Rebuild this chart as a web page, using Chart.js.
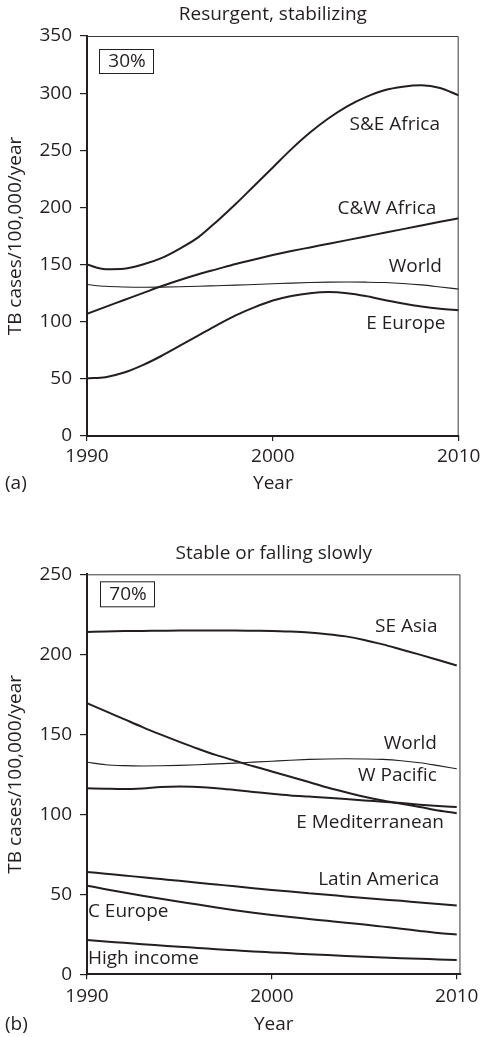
<!DOCTYPE html>
<html>
<head>
<meta charset="utf-8">
<script src="https://cdn.jsdelivr.net/npm/chart.js@4.4.1/dist/chart.umd.min.js"></script>
<style>
  html, body { margin: 0; padding: 0; background: #fff; }
  #wrap { position: relative; width: 485px; height: 1037px; overflow: hidden; }
  canvas { position: absolute; left: 0; display: block; }
  #ca { top: 0; }
  #cb { top: 500px; }
</style>
</head>
<body>
<div id="wrap">
  <canvas id="ca" width="485" height="500"></canvas>
  <canvas id="cb" width="485" height="537"></canvas>
</div>
<script>
// TB incidence per 100,000 per year, by region, 1990-2010
const years = [1990,1991,1992,1993,1994,1995,1996,1997,1998,1999,2000,2001,2002,2003,2004,2005,2006,2007,2008,2009,2010];

const xTicks = [1990, 2000, 2010];
const yTicksA = [0, 50, 100, 150, 200, 250, 300, 350];
const yTicksB = [0, 50, 100, 150, 200, 250];

// (a) Resurgent, stabilizing
const seAfrica = [150,146,146.4,150,155.6,164,174,188,203,219,235,251,265.5,278,288.5,296.5,302.5,305.6,306.8,304.5,298];
const cwAfrica = [107,113,119,125,131,136.5,141.5,146,150.5,154.5,158.3,161.8,165,168.2,171.4,174.6,177.8,181,184.2,187.4,190.5];
const world    = [132.5,131,130.4,130.2,130.3,130.6,131,131.5,132,132.6,133.2,133.8,134.3,134.6,134.7,134.6,134.3,133.5,132.2,130.4,128.5];
const eEurope  = [50.5,51.5,55.5,62,70,79,88,97,105.5,112.5,118.5,122.5,125,126,125,122.5,119,116,113.3,111.3,110];

// (b) Stable or falling slowly
const seAsia   = [214,214.3,214.5,214.6,214.7,214.8,214.8,214.8,214.8,214.7,214.6,214.2,213.6,212.6,211.2,209,206.2,203,199.8,196.4,193];
const wPacific = [169.5,164.5,159.5,154.5,149.8,145.3,141,137,133.5,130,126.8,123.5,120.2,116.8,113.8,111,108.6,106.6,104.6,102.4,100.7];
const eMed     = [116.3,116,115.8,116.2,117,117.3,117,116.3,115.2,114,112.8,111.8,111.1,110.4,109.6,108.7,107.9,107,106,105.2,104.5];
const latAm    = [64,62.9,61.8,60.6,59.5,58.4,57.2,56.1,55,53.8,52.7,51.7,50.7,49.7,48.7,47.7,46.8,45.9,44.9,44,43];
const cEurope  = [55.4,53.2,51.1,49.1,47.2,45.4,43.6,41.8,40.1,38.5,37.1,35.8,34.6,33.4,32.2,31.1,29.8,28.5,27.1,25.8,24.8];
const highInc  = [21.4,20.5,19.7,18.8,18,17.2,16.5,15.7,15,14.3,13.7,13.1,12.5,12,11.5,11,10.5,10.1,9.7,9.3,8.9];

// Region names, anchored at [year, rate]
const labelsA = [
  { text: 'S&E Africa', at: [2006.56, 272.1], align: 'center' },
  { text: 'C&W Africa', at: [2006.14, 199.2], align: 'center' },
  { text: 'World',      at: [2007.67, 148.2], align: 'center' },
  { text: 'E Europe',   at: [2007.16, 98.6],  align: 'center' }
];
const labelsB = [
  { text: 'SE Asia',         at: [2007.27, 217.3], align: 'center' },
  { text: 'World',           at: [2007.49, 143.9], align: 'center' },
  { text: 'W Pacific',       at: [2006.79, 123.9], align: 'center' },
  { text: 'E Mediterranean', at: [2005.31, 94.75], align: 'center' },
  { text: 'Latin America',   at: [2005.78, 58.9],  align: 'center' },
  { text: 'C Europe',        at: [1990.05, 39.1],  align: 'left' },
  { text: 'High income',     at: [1990.05, 10.0],  align: 'left' }
];

const INK = '#231f20';
const FONT_FAMILY = '"Open Sans", "Noto Sans", sans-serif';
const FONT_SIZE = 19;
Chart.defaults.font.family = FONT_FAMILY;
Chart.defaults.font.size = FONT_SIZE;
Chart.defaults.color = INK;

const series = (vals) => years.map((y, i) => ({ x: y, y: vals[i] }));

function line(vals, width) {
  return {
    data: series(vals),
    borderColor: INK,
    borderWidth: width,
    pointRadius: 0,
    fill: false,
    cubicInterpolationMode: 'monotone'
  };
}

// Panel title, frame, share box, panel letter and region names
const decor = {
  id: 'decor',
  afterDatasetsDraw(chart, args, o) {
    const { ctx, chartArea: a, scales } = chart;
    ctx.save();
    // thin top and right edges of the frame
    ctx.strokeStyle = '#3c3a3b';
    ctx.lineWidth = 1;
    ctx.beginPath();
    ctx.moveTo(a.left, a.top + 0.5);
    ctx.lineTo(a.right - 0.5, a.top + 0.5);
    ctx.lineTo(a.right - 0.5, a.bottom);
    ctx.stroke();

    ctx.font = FONT_SIZE + 'px ' + FONT_FAMILY;
    ctx.fillStyle = INK;
    ctx.textBaseline = 'middle';

    // panel title, centred over the plot area
    ctx.textAlign = 'center';
    ctx.fillText(o.title, (a.left + a.right) / 2, a.top - o.titleGap);

    // share-of-cases box
    const b = o.box;
    ctx.strokeStyle = INK;
    ctx.lineWidth = 1;
    ctx.strokeRect(a.left + b.dx + 0.5, a.top + b.dy + 0.5, b.w, b.h);
    ctx.fillText(b.text, a.left + b.dx + b.w / 2 + 1, a.top + b.dy + b.h / 2 + 1);

    // region names
    for (const l of o.labels) {
      ctx.textAlign = l.align;
      ctx.fillText(l.text, scales.x.getPixelForValue(l.at[0]), scales.y.getPixelForValue(l.at[1]));
    }

    // panel letter
    ctx.textAlign = 'left';
    ctx.fillText(o.letter.text, o.letter.x, o.letter.y);
    ctx.restore();
  }
};

function makeChart(id, cfg) {
  return new Chart(document.getElementById(id), {
    type: 'line',
    data: { datasets: cfg.datasets },
    plugins: [decor],
    options: {
      responsive: false,
      animation: false,
      events: [],
      layout: { padding: { left: 0, right: 23, top: cfg.padTop, bottom: 0 } },
      plugins: {
        legend: { display: false },
        tooltip: { enabled: false },
        title: { display: false },
        decor: cfg.decor
      },
      scales: {
        x: {
          type: 'linear',
          min: 1990,
          max: cfg.xMax,
          afterBuildTicks: (s) => { s.ticks = xTicks.map(v => ({ value: v })); },
          afterFit: (s) => { s.height = cfg.xHeight; },
          ticks: { padding: cfg.xTickPad, color: INK, maxRotation: 0, callback: (v) => String(v) },
          grid: { drawOnChartArea: false, drawTicks: true, tickLength: 5, color: INK, lineWidth: 1.2 },
          border: { display: true, color: INK, width: 2 },
          title: { display: true, text: 'Year', color: INK, padding: { top: 0, bottom: cfg.xTitlePad } }
        },
        y: {
          type: 'linear',
          min: 0,
          max: cfg.yMax,
          afterBuildTicks: (s) => { s.ticks = cfg.yTicks.map(v => ({ value: v })); },
          afterFit: (s) => { s.width = 87; },
          ticks: { padding: 8, color: INK },
          grid: { drawOnChartArea: false, drawTicks: true, tickLength: 7, color: INK, lineWidth: 1.2 },
          border: { display: true, color: INK, width: 2 },
          title: { display: true, text: 'TB cases/100,000/year', color: INK, padding: { top: 4.6, bottom: 0 } }
        }
      }
    }
  });
}

makeChart('ca', {
  padTop: 36,
  xMax: 2010,
  yMax: 350,
  yTicks: yTicksA,
  xHeight: 64,
  xTickPad: 4.6,
  xTitlePad: 5.3,
  datasets: [line(seAfrica, 2), line(cwAfrica, 2), line(world, 1.1), line(eEurope, 2)],
  decor: {
    title: 'Resurgent, stabilizing',
    titleGap: 21,
    labels: labelsA,
    box: { text: '30%', dx: 12, dy: 13, w: 54, h: 24 },
    letter: { text: '(a)', x: 5, y: 484 }
  }
});

makeChart('cb', {
  padTop: 74.3,
  xMax: 2010.2,
  yMax: 250,
  yTicks: yTicksB,
  xHeight: 62.7,
  xTickPad: 6.3,
  xTitlePad: 0.6,
  datasets: [line(seAsia, 2), line(wPacific, 2), line(world, 1.1), line(eMed, 2), line(latAm, 2), line(cEurope, 2), line(highInc, 2)],
  decor: {
    title: 'Stable or falling slowly',
    titleGap: 20.3,
    labels: labelsB,
    box: { text: '70%', dx: 13, dy: 7, w: 54, h: 25 },
    letter: { text: '(b)', x: 5, y: 525 }
  }
});
</script>
</body>
</html>
